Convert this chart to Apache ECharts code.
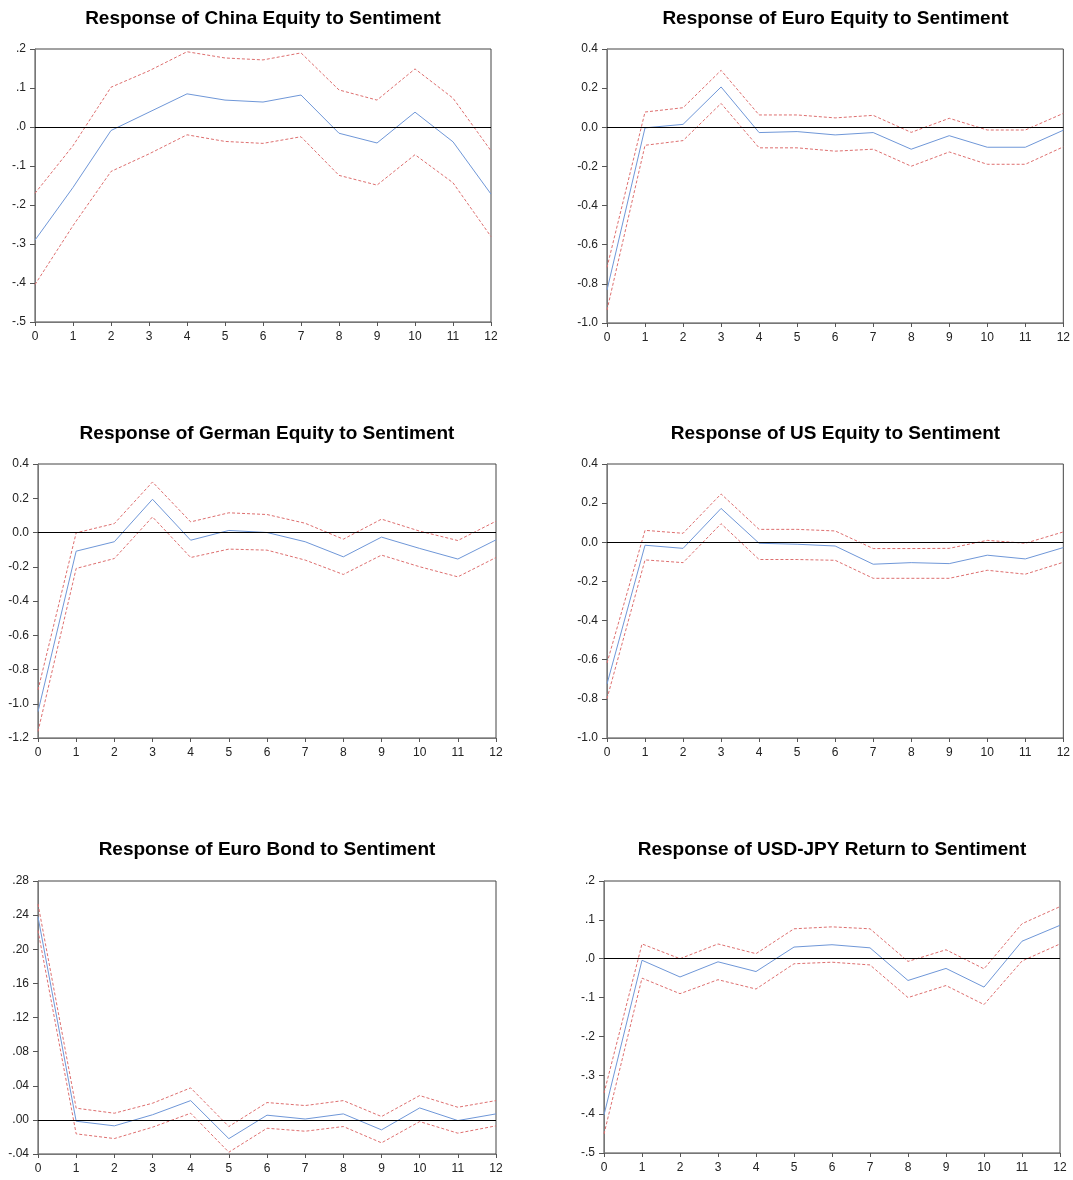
<!DOCTYPE html>
<html><head><meta charset="utf-8">
<script src="https://cdn.jsdelivr.net/npm/echarts@6/dist/echarts.min.js"></script>
<style>html,body{margin:0;padding:0;background:#fff}#c{width:1073px;height:1180px}</style>
</head><body><div id="c"></div>
<script>
// Horizon (periods)
const periods = [0,1,2,3,4,5,6,7,8,9,10,11,12];

// Response of China Equity to Sentiment
const chinaMid = [-0.290,-0.155,-0.009,0.038,0.085,0.069,0.064,0.082,-0.016,-0.041,0.038,-0.038,-0.172];
const chinaUp  = [-0.170,-0.048,0.102,0.144,0.193,0.177,0.172,0.190,0.095,0.069,0.149,0.074,-0.061];
const chinaLo  = [-0.404,-0.253,-0.114,-0.069,-0.020,-0.037,-0.042,-0.025,-0.124,-0.149,-0.071,-0.143,-0.281];

// Response of Euro Equity to Sentiment
const euroMid = [-0.832,-0.003,0.015,0.206,-0.027,-0.022,-0.039,-0.027,-0.112,-0.043,-0.102,-0.102,-0.015];
const euroUp  = [-0.716,0.078,0.100,0.291,0.063,0.063,0.048,0.061,-0.026,0.046,-0.014,-0.014,0.071];
const euroLo  = [-0.934,-0.092,-0.068,0.122,-0.105,-0.105,-0.122,-0.112,-0.199,-0.126,-0.189,-0.189,-0.100];

// Response of German Equity to Sentiment
const germanMid = [-1.046,-0.109,-0.054,0.194,-0.045,0.012,0.000,-0.054,-0.142,-0.027,-0.093,-0.155,-0.043];
const germanUp  = [-0.919,-0.002,0.052,0.295,0.062,0.115,0.105,0.054,-0.039,0.078,0.008,-0.047,0.066];
const germanLo  = [-1.162,-0.210,-0.152,0.091,-0.146,-0.097,-0.103,-0.161,-0.245,-0.132,-0.200,-0.259,-0.146];

// Response of US Equity to Sentiment
const usMid = [-0.724,-0.015,-0.031,0.173,-0.005,-0.010,-0.019,-0.112,-0.104,-0.109,-0.066,-0.085,-0.027];
const usUp  = [-0.617,0.061,0.046,0.247,0.066,0.066,0.058,-0.032,-0.032,-0.031,0.010,-0.005,0.053];
const usLo  = [-0.799,-0.090,-0.104,0.095,-0.088,-0.088,-0.092,-0.184,-0.184,-0.184,-0.143,-0.163,-0.102];

// Response of Euro Bond to Sentiment
const bondMid = [0.238,-0.0016,-0.007,0.006,0.0226,-0.022,0.0055,0.001,0.007,-0.0117,0.014,-0.0008,0.007];
const bondUp  = [0.253,0.0137,0.0078,0.0195,0.0375,-0.0078,0.0203,0.0168,0.0226,0.0039,0.0285,0.0148,0.0226];
const bondLo  = [0.222,-0.0164,-0.0219,-0.0086,0.0078,-0.0379,-0.0098,-0.0133,-0.0078,-0.0269,-0.002,-0.0156,-0.007];

// Response of USD-JPY Return to Sentiment
const jpyMid = [-0.402,-0.004,-0.047,-0.008,-0.033,0.030,0.036,0.028,-0.056,-0.025,-0.073,0.045,0.086];
const jpyUp  = [-0.346,0.038,0.000,0.038,0.013,0.077,0.082,0.077,-0.007,0.023,-0.026,0.090,0.134];
const jpyLo  = [-0.451,-0.050,-0.090,-0.054,-0.078,-0.013,-0.009,-0.016,-0.100,-0.069,-0.118,-0.006,0.038];

// Titles and y-axis ranges
const titles = [
  'Response of China Equity to Sentiment',
  'Response of Euro Equity to Sentiment',
  'Response of German Equity to Sentiment',
  'Response of US Equity to Sentiment',
  'Response of Euro Bond to Sentiment',
  'Response of USD-JPY Return to Sentiment'
];
const yMins = [-0.5,-1.0,-1.2,-1.0,-0.04,-0.5];
const yMaxs = [0.2,0.4,0.4,0.4,0.28,0.2];
const ySteps = [0.1,0.2,0.2,0.2,0.04,0.1];
const yFormats = ['dot1','fixed1','fixed1','fixed1','dot2','dot1'];

const panels = [
  [chinaMid, chinaUp, chinaLo],
  [euroMid, euroUp, euroLo],
  [germanMid, germanUp, germanLo],
  [usMid, usUp, usLo],
  [bondMid, bondUp, bondLo],
  [jpyMid, jpyUp, jpyLo]
];

// layout
const grids = [
  {left:35, top:49, width:456, height:273},
  {left:607, top:49, width:457, height:274},
  {left:38, top:464, width:458, height:274},
  {left:607, top:464, width:457, height:274},
  {left:38, top:881, width:458, height:273},
  {left:604, top:881, width:456, height:272}
];
const titleTops = [9, 424, 840];

function fmt(kind) {
  return function (v) {
    const r = Math.round(v * 1000) / 1000;
    const neg = r < 0;
    const a = Math.abs(r);
    if (kind === 'fixed1') return (neg ? '-' : '') + a.toFixed(1);
    if (kind === 'dot1') return (neg ? '-' : '') + a.toFixed(1).replace(/^0/, '');
    return (neg ? '-' : '') + a.toFixed(2).replace(/^0/, '');
  };
}

const FONT = 'Arial, "Liberation Sans", sans-serif';
const option = {
  animation: false,
  backgroundColor: '#fff',
  title: [], grid: [], xAxis: [], yAxis: [], series: []
};

panels.forEach((p, i) => {
  const g = grids[i];
  option.grid.push(Object.assign({show:true, borderColor:'#444', borderWidth:1, backgroundColor:'transparent', containLabel:false}, g));
  option.title.push({
    text: titles[i],
    left: g.left + g.width / 2,
    top: titleTops[Math.floor(i / 2)],
    textAlign: 'center',
    padding: 0,
    textStyle: {fontFamily: FONT, fontWeight: 'bold', fontSize: 19, color: '#000'}
  });
  option.xAxis.push({
    type: 'value', gridIndex: i, min: 0, max: 12, interval: 1,
    axisLine: {show: true, onZero: false, lineStyle: {color: '#777', width: 1}},
    axisTick: {show: true, length: 4, lineStyle: {color: '#555'}},
    axisLabel: {color: '#222', fontFamily: FONT, fontSize: 12, margin: 9},
    splitLine: {show: false}
  });
  option.yAxis.push({
    type: 'value', gridIndex: i, min: yMins[i], max: yMaxs[i], interval: ySteps[i],
    axisLine: {show: true, onZero: false, lineStyle: {color: '#777', width: 1}},
    axisTick: {show: true, length: 5, lineStyle: {color: '#555'}},
    axisLabel: {color: '#222', fontFamily: FONT, fontSize: 12, margin: 9, formatter: fmt(yFormats[i])},
    splitLine: {show: false}
  });
  const [mid, up, lo] = p;
  const toPts = arr => arr.map((v, k) => [periods[k], v]);
  option.series.push({
    type: 'line', xAxisIndex: i, yAxisIndex: i, data: toPts(up), showSymbol: false, silent: true,
    lineStyle: {color: '#DE6F6F', width: 1, type: [3, 2]}, z: 3
  });
  option.series.push({
    type: 'line', xAxisIndex: i, yAxisIndex: i, data: toPts(lo), showSymbol: false, silent: true,
    lineStyle: {color: '#DE6F6F', width: 1, type: [3, 2]}, z: 3
  });
  option.series.push({
    type: 'line', xAxisIndex: i, yAxisIndex: i, data: toPts(mid), showSymbol: false, silent: true,
    lineStyle: {color: '#6F97D8', width: 1}, z: 4,
    markLine: {silent: true, symbol: 'none', label: {show: false},
      lineStyle: {color: '#000', width: 1, type: 'solid'}, data: [{yAxis: 0}]}
  });
});

const chart = echarts.init(document.getElementById('c'), null, {renderer: 'canvas'});
chart.setOption(option);
</script>
</body></html>
